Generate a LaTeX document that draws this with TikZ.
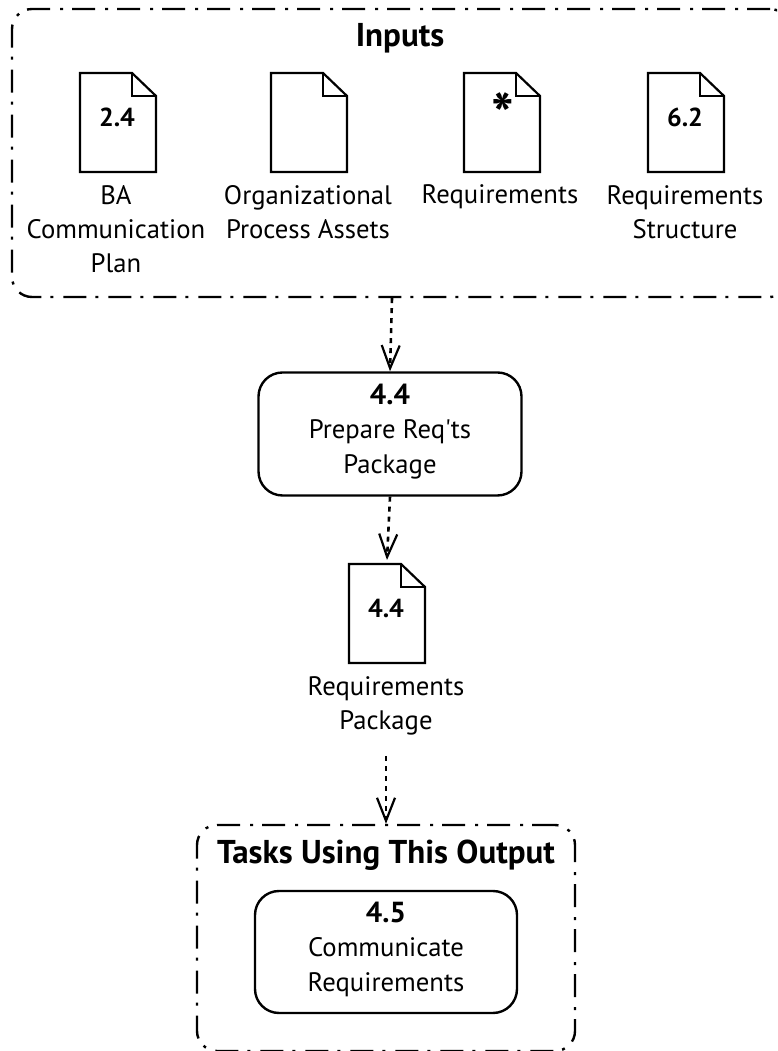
\documentclass[tikz,border=0pt]{standalone}
\usepackage{fontspec}
\setmainfont{PT Sans}
\usetikzlibrary{arrows.meta,positioning}
\tikzset{
	frame/.style={draw,line width=2.4pt,rounded corners=20pt,dash pattern=on 23pt off 9pt on 3pt off 10pt},
	task/.style={draw,line width=2.4pt,rounded corners=24pt,align=center,text depth=11pt,font=\fontsize{26.7}{34.5}\selectfont},
	doc/.style={line width=2.2pt,line join=miter},
	lbl/.style={align=center,font=\fontsize{26.7}{34}\selectfont,inner sep=0pt},
	num/.style={font=\fontsize{26}{26}\selectfont\bfseries,inner sep=0pt},
	head/.style={font=\fontsize{33}{33}\selectfont\bfseries,inner sep=0pt},
	flow/.style={-{Straight Barb[length=23pt,width=18pt,line width=2.2pt]},line width=2.6pt,dash pattern=on 5pt off 5pt}
}
\newcommand{\docicon}[3]{
	\draw [doc] (#1,#2)--(#1+52,#2)--(#1+76,#2-23)--(#1+76,#2-99)--(#1,#2-99)--cycle;
	\draw [doc] (#1+52,#2)--(#1+52,#2-23)--(#1+76,#2-23);
	\node[num] at (#1+37,#2-44) {#3};
}
\newcommand{\tasknum}[1]{{\fontsize{29}{34.5}\selectfont\bfseries #1}}
\begin{document}
\begin{tikzpicture}[x=1pt,y=1pt]
	\useasboundingbox (0,0) rectangle (777,1051);
	\clip (0,0) rectangle (777,1051);

	% input frame
	\node[frame,minimum width=778pt,minimum height=288pt] (inputs) at (401,898) {};
	\node[head] (inputstitle) at (400,1013) {Inputs};

	\docicon{80}{978}{2.4}
	\docicon{271}{978}{}
	\docicon{464}{978}{}
	\docicon{648}{978}{6.2}
	\node[font=\fontsize{60}{60}\selectfont\bfseries,inner sep=0pt] (star) at (503,936) {*};

	\node[lbl] (plan) at (116,822) {BA\\Communication\\Plan};
	\node[lbl] (assets) at (308,839) {Organizational\\Process Assets};
	\node[lbl] (reqs) at (500,854) {Requirements};
	\node[lbl] (structure) at (685,839) {Requirements\\Structure};

	% prepare
	\node[task,minimum width=263pt,minimum height=123pt] (prepare) at (390,617) {\tasknum{4.4}\\Prepare Req\textquotesingle ts\\Package};

	\docicon{349}{487}{4.4}
	\node[lbl] (package) at (386,345.5) {Requirements\\Package};
	\coordinate (pkgtop) at (387,491);
	\coordinate (pkgbot) at (386,295);

	% tasks frame
	\node[frame,minimum width=378pt,minimum height=226pt] (tasks) at (386,113) {};
	\node[head] (taskstitle) at (386,196) {Tasks Using This Output};
	\node[task,minimum width=262pt,minimum height=122pt] (comm) at (386,99) {\tasknum{4.5}\\Communicate\\Requirements};

	\draw [flow] ([xshift=-9pt]inputs.south)--(prepare.north);
	\draw [flow] (prepare.south)--(pkgtop);
	\draw [flow] (pkgbot)--(tasks.north);
\end{tikzpicture}
\end{document}
